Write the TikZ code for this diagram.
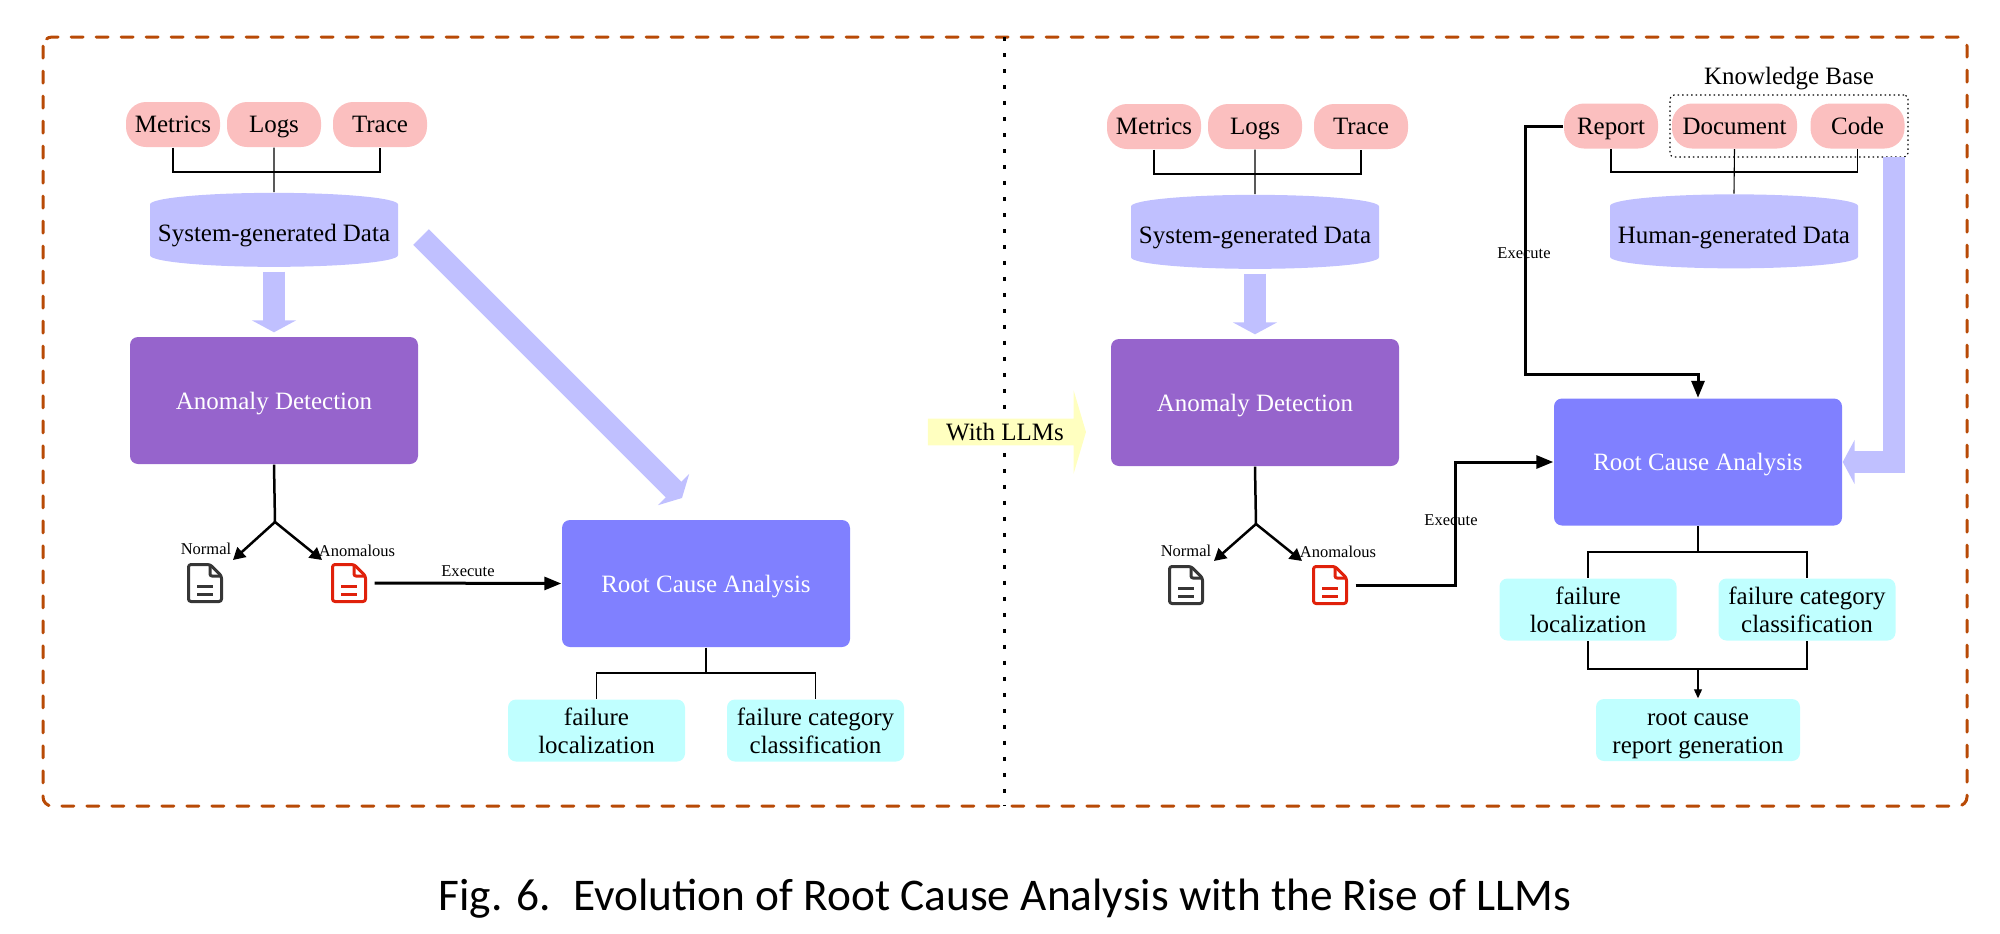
\documentclass[tikz,border=0pt]{standalone}
\usepackage{fontspec}
\setmainfont{Liberation Serif}
\newfontfamily\capfont{Carlito}
\definecolor{pillpink}{HTML}{FBBFBF}
\definecolor{datablue}{HTML}{C0C0FF}
\definecolor{rcablue}{HTML}{8080FF}
\definecolor{adpurple}{HTML}{9664CC}
\definecolor{subcyan}{HTML}{C0FFFF}
\definecolor{llmyellow}{HTML}{FFFFC0}
\definecolor{framebrown}{HTML}{B84A06}
\definecolor{docred}{HTML}{E0210B}
\definecolor{docgray}{HTML}{363636}
\usetikzlibrary{shapes.geometric, shapes.arrows, arrows.meta, positioning}
\tikzset{
  every node/.style={font=\fontsize{7.1}{8}\selectfont, inner sep=0pt},
  pillbox/.style={fill=pillpink, text height=1.8mm, text depth=0.2mm, rounded corners=2mm, minimum width=9.4mm, minimum height=4.5mm},
  databox/.style={cylinder, shape border rotate=90, aspect=0.1, fill=datablue, minimum height=7.4mm, minimum width=24.8mm},
  adbox/.style={fill=adpurple, text=white, text depth=0pt, rounded corners=0.8mm, minimum width=28.8mm, minimum height=12.7mm},
  rcabox/.style={fill=rcablue, text=white, text depth=0pt, rounded corners=0.8mm, minimum width=28.8mm, minimum height=12.7mm},
  subbox/.style={fill=subcyan, align=center, rounded corners=0.8mm, minimum width=17.7mm, minimum height=6.2mm},
  smalllabel/.style={font=\fontsize{4.7}{6}\selectfont},
  docicon/.style={minimum width=5mm, minimum height=5mm, path picture={
    \begin{scope}[shift={(path picture bounding box.center)}, draw=#1, line width=0.3mm, line join=round]
      \draw[rounded corners=0.25mm] (-16.5,-18.5) -- (5,-18.5) -- (16.5,-7) -- (16.5,18.5) -- (-16.5,18.5) -- cycle;
      \draw[rounded corners=0.2mm] (5,-18.5) -- (5,-7) -- (16.5,-7);
      \draw (-8,3) -- (8,3) (-8,11) -- (8,11);
    \end{scope}}},
  thinline/.style={line width=0.11mm},
  execline/.style={line width=0.3mm, -{Triangle[length=1.7mm, width=1.3mm]}},
  forkline/.style={line width=0.25mm, -{Triangle[length=1.2mm, width=1.3mm]}},
  fatarrow/.style={datablue, line width=2.2mm, -{Triangle[length=1.2mm, width=4.4mm]}},
}
\begin{document}
\begin{tikzpicture}[x=0.1mm, y=-0.1mm]
  \useasboundingbox (0,0) rectangle (2000,934);
  % outer frame and divider
  \draw[framebrown, line width=0.3mm, rounded corners=0.9mm, line cap=round, dash pattern=on 1.2mm off 1.3mm] (43,37) rectangle (1967,806);
  \coordinate (dividertop) at (1004,37);
  \coordinate (dividerbot) at (1004,806);
  \draw[line width=0.3mm, dash pattern=on 0.4mm off 1.2mm] (dividertop) -- (dividerbot);
  \node[single arrow, fill=llmyellow, minimum width=8.3mm, minimum height=15.8mm, single arrow head extend=2mm, single arrow tip angle=147, single arrow head indent=0pt] (withllms) at (1005,432) {With LLMs};

  % left side, data sources
  \node[pillbox] (metricsl) at (173,124.5) {Metrics};
  \node[pillbox] (logsl) at (274,124.5) {Logs};
  \node[pillbox] (tracel) at (380,124.5) {Trace};
  \node[databox] (sysdatal) at (274,236) {System-generated Data};
  \coordinate (bushubl) at (274,172);
  \draw[thinline] (metricsl.south) |- (bushubl) -| (tracel.south);
  \draw[thinline] (logsl.south) -- (sysdatal.north);
  % left side, detection
  \node[adbox] (anomalyl) at (274,400.5) {Anomaly Detection};
  \draw[fatarrow, shorten <=0.4mm, shorten >=0.4mm] (sysdatal.south) -- (anomalyl.north);
  \coordinate (forkl) at (275,522);
  \coordinate (normaltipl) at (233,560);
  \coordinate (anomtipl) at (322,560);
  \draw[line width=0.25mm] (anomalyl.south) -- (forkl);
  \draw[forkline] (forkl) -- (normaltipl);
  \draw[forkline] (forkl) -- (anomtipl);
  \node[smalllabel] (normallabl) at (206,549) {Normal};
  \node[smalllabel] (anomlabl) at (357,551) {Anomalous};
  \node[docicon=docgray] (normaldocl) at (205,583) {};
  \node[docicon=docred] (anomdocl) at (349,583) {};
  % left side, root cause
  \node[rcabox] (rcal) at (706,583.5) {Root Cause Analysis};
  \draw[execline] (anomdocl.east) -- (rcal.west);
  \node[smalllabel] (execlabl) at (468,571) {Execute};
  \coordinate (fatstartl) at (421,237);
  \coordinate (fattipl) at (682,498);
  \draw[fatarrow] (fatstartl) -- (fattipl);
  \node[subbox] (locl) at (596.5,730.5) {failure\\localization};
  \node[subbox] (catl) at (815.5,730.5) {failure category\\classification};
  \coordinate (bushubrcal) at (706,673);
  \draw[thinline] (rcal.south) -- (bushubrcal);
  \draw[thinline] (locl.north) |- (bushubrcal) -| (catl.north);

  % right side, data sources
  \node[pillbox] (metricsr) at (1154,126.5) {Metrics};
  \node[pillbox] (logsr) at (1255,126.5) {Logs};
  \node[pillbox] (tracer) at (1361,126.5) {Trace};
  \node[databox] (sysdatar) at (1255,238) {System-generated Data};
  \coordinate (bushubr) at (1255,174);
  \draw[thinline] (metricsr.south) |- (bushubr) -| (tracer.south);
  \draw[thinline] (logsr.south) -- (sysdatar.north);
  \node[pillbox] (reportr) at (1611,126) {Report};
  \node[pillbox, minimum width=12.5mm] (documentr) at (1734.5,126) {Document};
  \node[pillbox] (coder) at (1857.5,126) {Code};
  \node[draw, thinline, dash pattern=on 0.15mm off 0.3mm, rounded corners=0.4mm, minimum width=23.8mm, minimum height=6.2mm] (kbboxr) at (1789,126) {};
  \node (kblabelr) at (1789,78.5) {Knowledge Base};
  \node[databox] (humandatar) at (1734,237.5) {Human-generated Data};
  \coordinate (bushumanr) at (1734,172);
  \draw[thinline] (reportr.south) |- (bushumanr) -| (coder.south);
  \draw[thinline] (documentr.south) -- (humandatar.north);
  % right side, detection
  \node[adbox] (anomalyr) at (1255,402.5) {Anomaly Detection};
  \draw[fatarrow, shorten <=0.4mm, shorten >=0.4mm] (sysdatar.south) -- (anomalyr.north);
  \coordinate (forkr) at (1256,524);
  \coordinate (normaltipr) at (1214,561);
  \coordinate (anomtipr) at (1302,561);
  \draw[line width=0.25mm] (anomalyr.south) -- (forkr);
  \draw[forkline] (forkr) -- (normaltipr);
  \draw[forkline] (forkr) -- (anomtipr);
  \node[smalllabel] (normallabr) at (1186,551) {Normal};
  \node[smalllabel] (anomlabr) at (1338,552) {Anomalous};
  \node[docicon=docgray] (normaldocr) at (1186,585) {};
  \node[docicon=docred] (anomdocr) at (1330,585) {};
  % right side, root cause
  \node[rcabox] (rcar) at (1698,462) {Root Cause Analysis};
  \coordinate (execbendr) at (1455,462);
  \draw[execline] (anomdocr.east) -| (execbendr) -- (rcar.west);
  \node[smalllabel] (execlabr) at (1451,520) {Execute};
  \coordinate (reportbendr) at (1525,374);
  \draw[execline] (reportr.west) -| (reportbendr) -| (rcar.north);
  \node[smalllabel] (reportlabr) at (1524,253) {Execute};
  \coordinate (fatstartr) at (1894,157);
  \draw[fatarrow] (fatstartr) |- (rcar.east);
  \node[subbox] (locr) at (1588,609.5) {failure\\localization};
  \node[subbox] (catr) at (1807,609.5) {failure category\\classification};
  \coordinate (bushubrcar) at (1698,552);
  \draw[thinline] (rcar.south) -- (bushubrcar);
  \draw[thinline] (locr.north) |- (bushubrcar) -| (catr.north);
  \node[subbox, minimum width=20.4mm] (reportgenr) at (1698,730) {\rule{0pt}{2.4mm}root cause\\report generation};
  \coordinate (bushubgenr) at (1698,669);
  \draw[thinline] (locr.south) |- (bushubgenr) -| (catr.south);
  \draw[thinline, -{Triangle[length=0.9mm, width=0.8mm]}] (bushubgenr) -- (reportgenr.north);

  % caption
  \node[font=\capfont\fontsize{12.9}{15}\selectfont] (captiontext) at (1005,899) {Fig. 6.\enspace Evolution of Root Cause Analysis with the Rise of LLMs};
\end{tikzpicture}
\end{document}
